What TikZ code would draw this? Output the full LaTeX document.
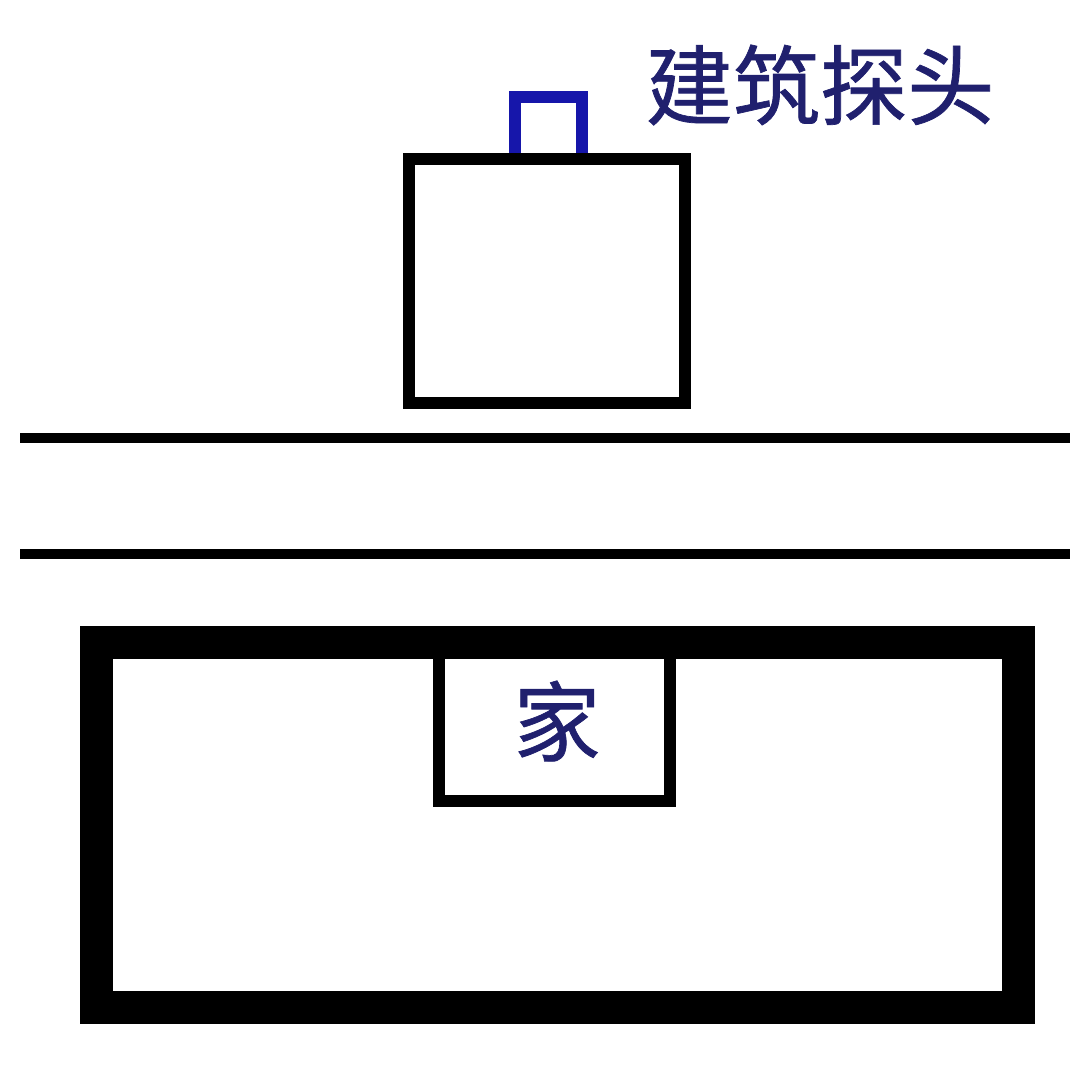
\documentclass[tikz,border=0pt]{standalone}
\usepackage{fontspec}
\newfontfamily\cjk[FakeBold=0.8]{Noto Sans CJK SC}
\definecolor{navy}{RGB}{32,32,110}
\definecolor{probeblue}{RGB}{22,22,170}

\begin{document}
\begin{tikzpicture}[x=0.025cm,y=-0.025cm,
		wall/.style={draw=black,line width=0.3cm},
		label/.style={text=navy,font=\cjk\fontsize{62}{62}\selectfont}]
				\useasboundingbox (0,0) rectangle (1080,1080);
				% probe on the building
				\draw[probeblue,line width=0.3cm] (515,160) -- (515,97) -- (582,97) -- (582,160);
				\node[wall, minimum width=6.9cm, minimum height=6.1cm] (bldg) at (547,281) {};
				\node[label] (probe) at (820,85) {建筑探头};
				% road
				\coordinate (r1w) at (20,438); \coordinate (r1e) at (1070,438);
				\coordinate (r2w) at (20,554); \coordinate (r2e) at (1070,554);
				\draw[line width=0.25cm] (r1w) -- (r1e) (r2w) -- (r2e);
				% estate and home
				\node[draw, line width=0.825cm, minimum width=23.05cm, minimum height=9.14cm] (estate) at (557.5,825) {};
				\draw[wall] (439,655) -- (439,801) -- (670,801) -- (670,655);
				\node[label] (home) at (557,721) {家};
			\end{tikzpicture}
\end{document}
